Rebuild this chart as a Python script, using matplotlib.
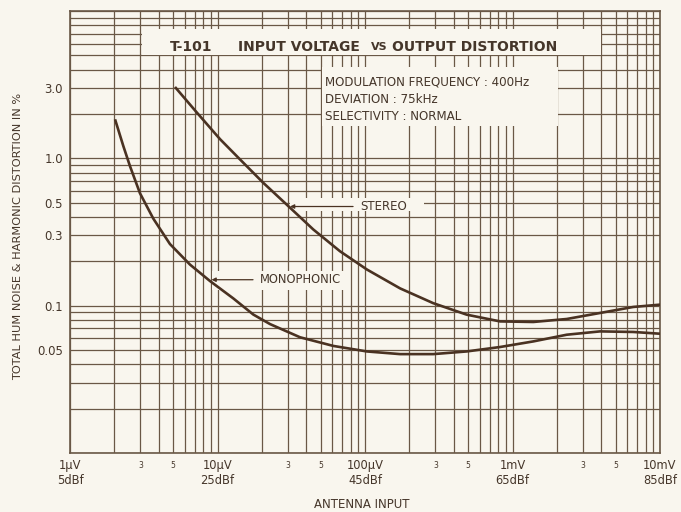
import numpy as np
import matplotlib
matplotlib.use("Agg")
import matplotlib.pyplot as plt
from matplotlib.patches import Rectangle
from matplotlib.ticker import LogLocator, NullLocator

# antenna input in microvolts, distortion in %
stereo_uv = [5.15, 7.23, 10.4, 14.2, 20.4, 30.2, 44.6, 67.7, 103, 173, 290, 489, 823, 1384, 2330, 3920, 6590, 10000]
stereo_pct = [3.05, 2.05, 1.35, 0.984, 0.683, 0.474, 0.329, 0.234, 0.176, 0.131, 0.104, 0.0869, 0.0782, 0.0775, 0.0812, 0.0892, 0.098, 0.1016]

mono_uv = [2.02, 2.30, 2.55, 2.98, 3.67, 4.76, 6.51, 8.89, 12.8, 17.5, 22.7, 36.3, 61.0, 103, 173, 290, 489, 823, 1384, 2330, 3920, 6590, 10000]
mono_pct = [1.84, 1.21, 0.886, 0.58, 0.39, 0.262, 0.190, 0.147, 0.112, 0.087, 0.075, 0.0610, 0.0533, 0.0489, 0.0469, 0.0469, 0.0489, 0.0524, 0.0572, 0.0635, 0.0669, 0.0663, 0.0645]

x_major_uv = [1, 10, 100, 1000, 10000]
x_major_labels = ["1\u00b5V\n5dBf", "10\u00b5V\n25dBf", "100\u00b5V\n45dBf", "1mV\n65dBf", "10mV\n85dBf"]
x_minor_uv = [3, 5, 30, 50, 300, 500, 3000, 5000]
x_minor_labels = ["3", "5", "3", "5", "3", "5", "3", "5"]

y_ticks = [3.0, 1.0, 0.5, 0.3, 0.1, 0.05]
y_labels = ["3.0", "1.0", "0.5", "0.3", "0.1", "0.05"]

bg = "#f9f6ee"
grid_c = "#6a5846"
ink = "#45362a"
curve_c = "#4a3222"

plt.rcParams['font.family'] = ['DejaVu Sans']

fig = plt.figure(figsize=(6.81, 5.12), dpi=100, facecolor=bg)
ax = fig.add_axes([70 / 681, 59 / 512, 590 / 681, 442 / 512], facecolor=bg)
ax.set_xscale("log")
ax.set_yscale("log")
ax.set_xlim(1, 10000)
ax.set_ylim(0.01, 10)

# log paper grid
for v in LogLocator(base=10, subs=np.arange(1, 10)).tick_values(1, 10000):
    if 1 <= v <= 10000:
        ax.axvline(v, color=grid_c, lw=0.9, zorder=0.5)
for v in LogLocator(base=10, subs=np.arange(1, 10)).tick_values(0.01, 10):
    if 0.01 <= v <= 10:
        ax.axhline(v, color=grid_c, lw=0.9, zorder=0.5)

# blank areas of the paper behind text
def blank(x0, x1, y0, y1):
    ax.add_patch(Rectangle((x0, y0), x1 - x0, y1 - y0, facecolor=bg,
                           edgecolor="none", zorder=1))

blank(3.1, 3980, 5.06, 7.6)
blank(50.8, 2040, 1.65, 4.2)
blank(31, 250, 0.44, 0.54)
blank(9.2, 74, 0.127, 0.172)

ax.plot(stereo_uv, stereo_pct, color=curve_c, lw=1.9, zorder=3, solid_capstyle="butt")
ax.plot(mono_uv, mono_pct, color=curve_c, lw=1.9, zorder=3, solid_capstyle="butt")

arrow = dict(arrowstyle="-|>", color=curve_c, lw=0.9, mutation_scale=6, shrinkA=3, shrinkB=0)
ax.annotate("STEREO", xy=(31.0, 0.471), xytext=(92.5, 0.471), va="center", ha="left",
            fontsize=8.5, color=ink, arrowprops=arrow, zorder=4)
ax.annotate("MONOPHONIC", xy=(9.1, 0.150), xytext=(19.4, 0.150), va="center", ha="left",
            fontsize=8.3, color=ink, arrowprops=arrow, zorder=4)

# title and conditions
ax.text(0.1695, 0.9186, "T-101", transform=ax.transAxes, fontsize=10, fontweight="bold",
        color=ink, va="center", ha="left", zorder=4)
ax.text(0.2847, 0.9186, "INPUT VOLTAGE", transform=ax.transAxes, fontsize=10, fontweight="bold",
        color=ink, va="center", ha="left", zorder=4)
ax.text(0.5102, 0.9186, "VS", transform=ax.transAxes, fontsize=8, fontweight="bold",
        color=ink, va="center", ha="left", zorder=4)
ax.text(0.5458, 0.9186, "OUTPUT DISTORTION", transform=ax.transAxes, fontsize=10, fontweight="bold",
        color=ink, va="center", ha="left", zorder=4)

info = ["MODULATION FREQUENCY : 400Hz", "DEVIATION : 75kHz", "SELECTIVITY : NORMAL"]
for i, line in enumerate(info):
    ax.text(0.4322, 0.8394 - i * 0.0392, line, transform=ax.transAxes, fontsize=8.6,
            color=ink, va="center", ha="left", zorder=4)

ax.set_xticks(x_major_uv, labels=x_major_labels)
ax.set_xticks(x_minor_uv, labels=x_minor_labels, minor=True)
ax.set_yticks(y_ticks, labels=y_labels)
ax.yaxis.set_minor_locator(NullLocator())
ax.tick_params(which="both", length=0, colors=ink)
ax.tick_params(axis="x", which="major", labelsize=8.3, pad=4)
ax.tick_params(axis="x", which="minor", labelsize=5.5, pad=6)
ax.tick_params(axis="y", labelsize=8.5, pad=5)

for s in ax.spines.values():
    s.set_color(grid_c)
    s.set_linewidth(1.2)

fig.text(18 / 681, 1 - 236 / 512, "TOTAL HUM NOISE & HARMONIC DISTORTION IN %", rotation=90,
         fontsize=8.2, color=ink, va="center", ha="center")
fig.text(362 / 681, 1 - 505 / 512, "ANTENNA INPUT", fontsize=8.5, color=ink, va="center", ha="center")

fig.savefig("out.png", dpi=100, facecolor=bg)
